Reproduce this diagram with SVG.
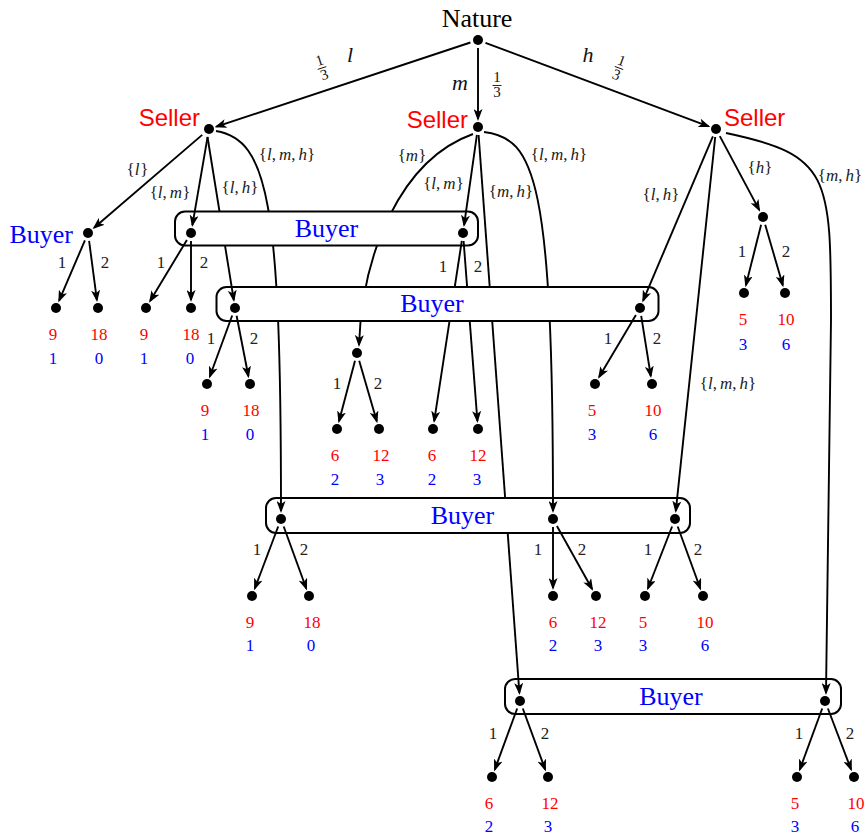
<svg xmlns="http://www.w3.org/2000/svg" width="865" height="836" viewBox="0 0 865 836">
<defs>
<style>
.e{fill:none;stroke:#000;stroke-width:1.9;marker-end:url(#arr)}
.n{fill:#000}
.box{fill:#fff;stroke:#000;stroke-width:2}
.seller{font-family:"Liberation Sans",Arial,sans-serif;font-size:24px;fill:#f00}
.buyer{font-family:"Liberation Serif","Times New Roman",serif;font-size:26px;fill:#00f}
.nat{font-family:"Liberation Serif","Times New Roman",serif;font-size:26px;fill:#000;text-anchor:middle}
.pr{font-family:"Liberation Serif","Times New Roman",serif;font-size:17px;fill:#f00;text-anchor:middle}
.pb{font-family:"Liberation Serif","Times New Roman",serif;font-size:17px;fill:#00f;text-anchor:middle}
.br{font-family:"Liberation Serif","Times New Roman",serif;font-size:17px;fill:#222;text-anchor:middle}
.el{font-family:"Liberation Serif","Times New Roman",serif;font-size:17px;fill:#222;text-anchor:middle}
.i{font-style:italic}
.nl{font-family:"Liberation Serif","Times New Roman",serif;font-size:22px;font-style:italic;fill:#111;text-anchor:middle}
.fr{font-family:"Liberation Serif","Times New Roman",serif;font-size:15px;fill:#111;text-anchor:middle}
.bar{stroke:#111;stroke-width:0.9}
</style>
<marker id="arr" viewBox="0 0 12 9" refX="10" refY="4.5" markerWidth="12" markerHeight="9" markerUnits="userSpaceOnUse" orient="auto">
<path d="M0,0 L12,4.5 L0,9 L3,4.5 Z" fill="#000"/>
</marker>
<mask id="h1" maskUnits="userSpaceOnUse" x="0" y="0" width="865" height="836">
<rect width="865" height="836" fill="#fff"/>
<rect x="175" y="211.5" width="303" height="34" rx="10" fill="#000"/>
</mask>
<mask id="h2" maskUnits="userSpaceOnUse" x="0" y="0" width="865" height="836">
<rect width="865" height="836" fill="#fff"/>
<rect x="216.5" y="287" width="442" height="34" rx="10" fill="#000"/>
</mask>
<mask id="h12" maskUnits="userSpaceOnUse" x="0" y="0" width="865" height="836">
<rect width="865" height="836" fill="#fff"/>
<rect x="175" y="211.5" width="303" height="34" rx="10" fill="#000"/>
<rect x="216.5" y="287" width="442" height="34" rx="10" fill="#000"/>
</mask>
<mask id="h23" maskUnits="userSpaceOnUse" x="0" y="0" width="865" height="836">
<rect width="865" height="836" fill="#fff"/>
<rect x="216.5" y="287" width="442" height="34" rx="10" fill="#000"/>
<rect x="266" y="498" width="424" height="35" rx="10" fill="#000"/>
</mask>
</defs>

<g id="infoset-1"><rect class="box" x="175" y="211.5" width="303" height="34" rx="10"/><text class="buyer" x="326.5" y="237" text-anchor="middle">Buyer</text></g>
<g id="infoset-2"><rect class="box" x="216.5" y="287" width="442" height="34" rx="10"/><text class="buyer" x="432" y="312" text-anchor="middle">Buyer</text></g>
<g id="infoset-3"><rect class="box" x="266" y="498" width="424" height="35" rx="10"/><text class="buyer" x="462.5" y="524" text-anchor="middle">Buyer</text></g>
<g id="infoset-4"><rect class="box" x="505" y="679" width="336" height="35" rx="10"/><text class="buyer" x="671" y="705" text-anchor="middle">Buyer</text></g>

<g id="connectors">
<line class="e" x1="470.4" y1="42.5" x2="216.4" y2="126.6"/>
<line class="e" x1="478" y1="48" x2="478" y2="119"/>
<line class="e" x1="485.5" y1="42.8" x2="708.5" y2="126.4"/>
<line class="e" x1="202.2" y1="134.9" x2="94.1" y2="227.8"/>
<line class="e" x1="207.6" y1="136.9" x2="192.4" y2="225.1"/>
<line class="e" x1="207.5" y1="137" x2="233.8" y2="300.1" mask="url(#h1)"/>
<path class="e" d="M216,131 C268,140 281,200 281,511" mask="url(#h12)"/>
<path class="e" d="M473,134 C400,160 362,255 359,345" mask="url(#h12)"/>
<line class="e" x1="476.9" y1="134.9" x2="464.1" y2="225.1"/>
<line class="e" x1="478.6" y1="135" x2="519.4" y2="693" mask="url(#h23)"/>
<path class="e" d="M484,132 C535,138 553,180 553,511" mask="url(#h2)"/>
<line class="e" x1="712.9" y1="136.4" x2="643.1" y2="300.6"/>
<line class="e" x1="715.2" y1="137" x2="675.8" y2="511"/>
<line class="e" x1="719.8" y1="136.1" x2="759.2" y2="209.9"/>
<path class="e" d="M726,133 C830,155 831,175 831,320 L826,693"/>
<line class="e" x1="84.9" y1="240.4" x2="59.1" y2="300.6"/>
<line class="e" x1="89.1" y1="240.9" x2="96.9" y2="300.1"/>
<line class="e" x1="186.9" y1="239.9" x2="150.1" y2="301.1"/>
<line class="e" x1="191" y1="241" x2="191" y2="300"/>
<line class="e" x1="461.8" y1="240.9" x2="434.2" y2="421.1" mask="url(#h2)"/>
<line class="e" x1="463.6" y1="241" x2="477.4" y2="421" mask="url(#h2)"/>
<line class="e" x1="232.2" y1="315.5" x2="209.8" y2="376.5"/>
<line class="e" x1="236.6" y1="315.8" x2="248.4" y2="376.2"/>
<line class="e" x1="635.9" y1="314.9" x2="599.1" y2="377.1"/>
<line class="e" x1="641.2" y1="315.9" x2="650.8" y2="376.1"/>
<line class="e" x1="355" y1="360.7" x2="339" y2="421.3"/>
<line class="e" x1="359.2" y1="360.7" x2="376.8" y2="421.3"/>
<line class="e" x1="761.1" y1="224.8" x2="745.9" y2="285.2"/>
<line class="e" x1="765.2" y1="224.7" x2="782.8" y2="285.3"/>
<line class="e" x1="278.2" y1="526.5" x2="254.8" y2="588.5"/>
<line class="e" x1="283.7" y1="526.5" x2="306.3" y2="588.5"/>
<line class="e" x1="553" y1="527" x2="553" y2="588"/>
<line class="e" x1="556.9" y1="526" x2="592.1" y2="589"/>
<line class="e" x1="672.1" y1="526.5" x2="647.9" y2="588.5"/>
<line class="e" x1="677.7" y1="526.5" x2="700.3" y2="588.5"/>
<line class="e" x1="517.2" y1="708.5" x2="494.8" y2="769.5"/>
<line class="e" x1="522.8" y1="708.5" x2="545.2" y2="769.5"/>
<line class="e" x1="822.2" y1="708.5" x2="799.8" y2="769.5"/>
<line class="e" x1="827.9" y1="708.5" x2="851.1" y2="769.5"/>
</g>

<g id="edge-labels">
<g id="chance-labels">
<g transform="translate(322,68) rotate(-18)"><text class="fr" x="0" y="-3">1</text><line class="bar" x1="-4.5" y1="0" x2="4.5" y2="0"/><text class="fr" x="0" y="12">3</text></g>
<text class="nl" x="350" y="62">l</text>
<text class="nl" x="460" y="90">m</text>
<text class="fr" x="497" y="82">1</text><line class="bar" x1="492.5" y1="85.5" x2="501.5" y2="85.5"/><text class="fr" x="497" y="97">3</text>
<text class="nl" x="588" y="62">h</text>
<g transform="translate(619,68) rotate(20)"><text class="fr" x="0" y="-3">1</text><line class="bar" x1="-4.5" y1="0" x2="4.5" y2="0"/><text class="fr" x="0" y="12">3</text></g>
</g>
<text class="el" x="137.5" y="175">{<tspan class="i">l</tspan><tspan dx="1">}</tspan></text>
<text class="el" x="170" y="198">{<tspan class="i">l</tspan>,<tspan class="i" dx="3">m</tspan>}</text>
<text class="el" x="240" y="193">{<tspan class="i">l</tspan>,<tspan class="i" dx="3">h</tspan>}</text>
<text class="el" x="287" y="160">{<tspan class="i">l</tspan>,<tspan class="i" dx="3">m</tspan>,<tspan class="i" dx="3">h</tspan>}</text>
<text class="el" x="412" y="161">{<tspan class="i">m</tspan>}</text>
<text class="el" x="443.5" y="189">{<tspan class="i">l</tspan>,<tspan class="i" dx="3">m</tspan>}</text>
<text class="el" x="511" y="197">{<tspan class="i">m</tspan>,<tspan class="i" dx="3">h</tspan>}</text>
<text class="el" x="559" y="160">{<tspan class="i">l</tspan>,<tspan class="i" dx="3">m</tspan>,<tspan class="i" dx="3">h</tspan>}</text>
<text class="el" x="661" y="200">{<tspan class="i">l</tspan>,<tspan class="i" dx="3">h</tspan>}</text>
<text class="el" x="760" y="173">{<tspan class="i">h</tspan>}</text>
<text class="el" x="840" y="181">{<tspan class="i">m</tspan>,<tspan class="i" dx="3">h</tspan>}</text>
<text class="el" x="728" y="389">{<tspan class="i">l</tspan>,<tspan class="i" dx="3">m</tspan>,<tspan class="i" dx="3">h</tspan>}</text>
<text class="br" x="62" y="268">1</text><text class="br" x="105" y="268">2</text>
<text class="br" x="161" y="268">1</text><text class="br" x="204" y="268">2</text>
<text class="br" x="443" y="272">1</text><text class="br" x="478" y="272">2</text>
<text class="br" x="211" y="344">1</text><text class="br" x="254" y="344">2</text>
<text class="br" x="608" y="344">1</text><text class="br" x="657" y="344">2</text>
<text class="br" x="337" y="389">1</text><text class="br" x="378" y="389">2</text>
<text class="br" x="742" y="257">1</text><text class="br" x="786" y="257">2</text>
<text class="br" x="257" y="555">1</text><text class="br" x="304" y="555">2</text>
<text class="br" x="538" y="555">1</text><text class="br" x="582" y="555">2</text>
<text class="br" x="648" y="555">1</text><text class="br" x="698" y="555">2</text>
<text class="br" x="493" y="739">1</text><text class="br" x="545" y="739">2</text>
<text class="br" x="799" y="739">1</text><text class="br" x="850" y="739">2</text>
</g>

<g id="nature"><circle class="n" cx="478" cy="40" r="5"/><text class="nat" x="477" y="27">Nature</text></g>
<g id="seller-l"><circle class="n" cx="209" cy="129" r="5"/><text class="seller" x="200" y="126" text-anchor="end">Seller</text></g>
<g id="seller-m"><circle class="n" cx="478" cy="127" r="5"/><text class="seller" x="468" y="128" text-anchor="end">Seller</text></g>
<g id="seller-h"><circle class="n" cx="716" cy="129" r="5"/><text class="seller" x="724" y="126">Seller</text></g>
<g id="buyer-l"><circle class="n" cx="88" cy="233" r="5"/><text class="buyer" x="73" y="243" text-anchor="end">Buyer</text></g>
<g id="buyer-1a"><circle class="n" cx="191" cy="233" r="5"/></g>
<g id="buyer-1b"><circle class="n" cx="463" cy="233" r="5"/></g>
<g id="buyer-2a"><circle class="n" cx="235" cy="308" r="5"/></g>
<g id="buyer-2b"><circle class="n" cx="640" cy="308" r="5"/></g>
<g id="buyer-m"><circle class="n" cx="357" cy="353" r="5"/></g>
<g id="buyer-h"><circle class="n" cx="763" cy="217" r="5"/></g>
<g id="buyer-3a"><circle class="n" cx="281" cy="519" r="5"/></g>
<g id="buyer-3b"><circle class="n" cx="553" cy="519" r="5"/></g>
<g id="buyer-3c"><circle class="n" cx="675" cy="519" r="5"/></g>
<g id="buyer-4a"><circle class="n" cx="520" cy="701" r="5"/></g>
<g id="buyer-4b"><circle class="n" cx="825" cy="701" r="5"/></g>

<g id="leaf-l1"><circle class="n" cx="56" cy="308" r="5"/><text class="pr" x="53" y="340">9</text><text class="pb" x="53" y="364">1</text></g>
<g id="leaf-l2"><circle class="n" cx="98" cy="308" r="5"/><text class="pr" x="99" y="340">18</text><text class="pb" x="99" y="364">0</text></g>
<g id="leaf-1a1"><circle class="n" cx="146" cy="308" r="5"/><text class="pr" x="144" y="340">9</text><text class="pb" x="144" y="364">1</text></g>
<g id="leaf-1a2"><circle class="n" cx="191" cy="308" r="5"/><text class="pr" x="191" y="340">18</text><text class="pb" x="190" y="364">0</text></g>
<g id="leaf-2a1"><circle class="n" cx="207" cy="384" r="5"/><text class="pr" x="205" y="416">9</text><text class="pb" x="205" y="440">1</text></g>
<g id="leaf-2a2"><circle class="n" cx="250" cy="384" r="5"/><text class="pr" x="251" y="416">18</text><text class="pb" x="250" y="440">0</text></g>
<g id="leaf-m1"><circle class="n" cx="337" cy="429" r="5"/><text class="pr" x="335" y="461">6</text><text class="pb" x="335" y="485">2</text></g>
<g id="leaf-m2"><circle class="n" cx="379" cy="429" r="5"/><text class="pr" x="381" y="461">12</text><text class="pb" x="380" y="485">3</text></g>
<g id="leaf-1b1"><circle class="n" cx="433" cy="429" r="5"/><text class="pr" x="432" y="461">6</text><text class="pb" x="432" y="485">2</text></g>
<g id="leaf-1b2"><circle class="n" cx="478" cy="429" r="5"/><text class="pr" x="478" y="461">12</text><text class="pb" x="477" y="485">3</text></g>
<g id="leaf-2b1"><circle class="n" cx="595" cy="384" r="5"/><text class="pr" x="592" y="416">5</text><text class="pb" x="592" y="440">3</text></g>
<g id="leaf-2b2"><circle class="n" cx="652" cy="384" r="5"/><text class="pr" x="653" y="416">10</text><text class="pb" x="653" y="440">6</text></g>
<g id="leaf-h1"><circle class="n" cx="744" cy="293" r="5"/><text class="pr" x="743" y="325">5</text><text class="pb" x="743" y="350">3</text></g>
<g id="leaf-h2"><circle class="n" cx="785" cy="293" r="5"/><text class="pr" x="786" y="325">10</text><text class="pb" x="786" y="350">6</text></g>
<g id="leaf-3a1"><circle class="n" cx="252" cy="596" r="5"/><text class="pr" x="250" y="628">9</text><text class="pb" x="250" y="651">1</text></g>
<g id="leaf-3a2"><circle class="n" cx="309" cy="596" r="5"/><text class="pr" x="312" y="628">18</text><text class="pb" x="311" y="651">0</text></g>
<g id="leaf-3b1"><circle class="n" cx="553" cy="596" r="5"/><text class="pr" x="553" y="628">6</text><text class="pb" x="553" y="651">2</text></g>
<g id="leaf-3b2"><circle class="n" cx="596" cy="596" r="5"/><text class="pr" x="598" y="628">12</text><text class="pb" x="598" y="651">3</text></g>
<g id="leaf-3c1"><circle class="n" cx="645" cy="596" r="5"/><text class="pr" x="643" y="628">5</text><text class="pb" x="643" y="651">3</text></g>
<g id="leaf-3c2"><circle class="n" cx="703" cy="596" r="5"/><text class="pr" x="705" y="628">10</text><text class="pb" x="705" y="651">6</text></g>
<g id="leaf-4a1"><circle class="n" cx="492" cy="777" r="5"/><text class="pr" x="489" y="809">6</text><text class="pb" x="489" y="832">2</text></g>
<g id="leaf-4a2"><circle class="n" cx="548" cy="777" r="5"/><text class="pr" x="550" y="809">12</text><text class="pb" x="548" y="832">3</text></g>
<g id="leaf-4b1"><circle class="n" cx="797" cy="777" r="5"/><text class="pr" x="795" y="809">5</text><text class="pb" x="795" y="832">3</text></g>
<g id="leaf-4b2"><circle class="n" cx="854" cy="777" r="5"/><text class="pr" x="856" y="809">10</text><text class="pb" x="855" y="832">6</text></g>
</svg>
